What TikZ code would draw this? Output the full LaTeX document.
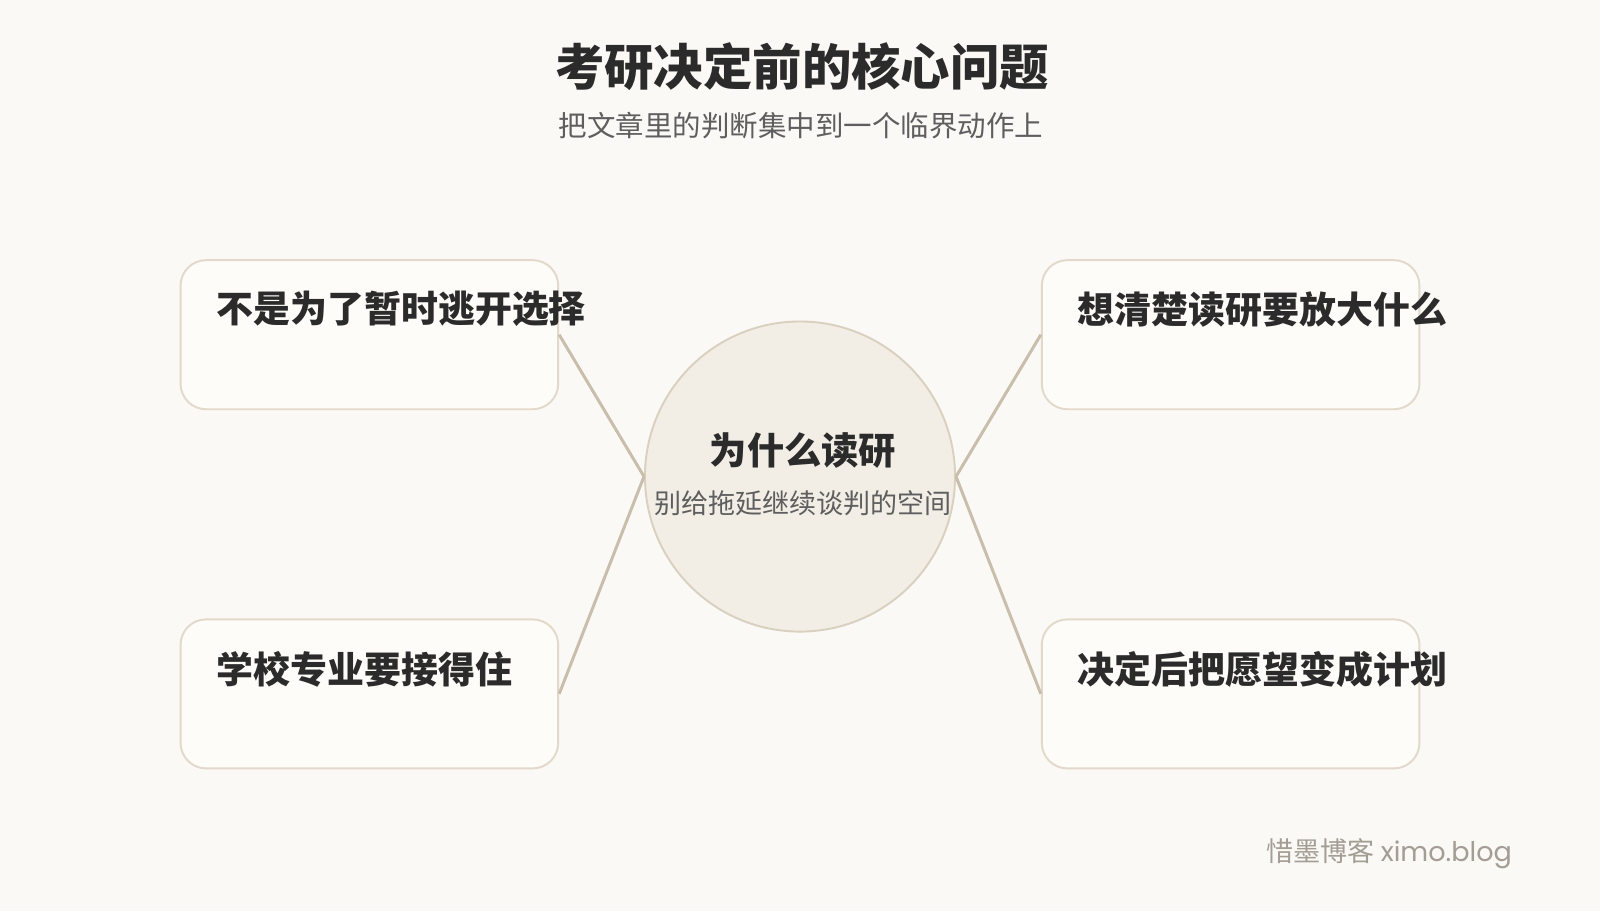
\documentclass[tikz,border=0pt]{standalone}
\usepackage{fontspec}
\setmainfont{Noto Sans CJK SC}
\newfontfamily\latinfont{Poppins}
\usepackage{tikz}

\definecolor{bgcol}{HTML}{FAF9F6}
\definecolor{boxfill}{HTML}{FDFCF9}
\definecolor{boxline}{HTML}{E2D9CA}
\definecolor{hubfill}{HTML}{F2EEE6}
\definecolor{hubline}{HTML}{DAD0BF}
\definecolor{linkcol}{HTML}{C9BEAB}
\definecolor{inkcol}{HTML}{2B2B2B}
\definecolor{subcol}{HTML}{5E5E5E}
\definecolor{footcol}{HTML}{A39D93}

\begin{document}
\begin{tikzpicture}[x=0.020408cm, y=-0.020408cm,
	leaf/.style={draw=boxline, fill=boxfill, line width=1.1pt, rounded corners=0.51cm, minimum width=7.55cm, minimum height=2.98cm, inner sep=0},
	hub/.style={circle, draw=hubline, fill=hubfill, line width=1.1pt, minimum size=6.2cm, inner sep=0},
	link/.style={draw=linkcol, line width=1.7pt},
	leaftext/.style={anchor=west, text=inkcol, font=\fontsize{21}{25}\selectfont\bfseries, inner sep=0}]
	\useasboundingbox (0,0) rectangle (1568,892.8);
	\path[fill=bgcol] (0,0) rectangle (1568,892.8);

	\node[text=inkcol, font=\fontsize{28.1}{33}\selectfont\bfseries] (title) at (786,65) {考研决定前的核心问题};
	\node[text=subcol, font=\fontsize{16.2}{19}\selectfont] (subtitle) at (785,123) {把文章里的判断集中到一个临界动作上};

	\node[leaf] (tl) at (362,328) {};
	\node[leaf] (bl) at (362,680) {};
	\node[leaf] (tr) at (1206,328) {};
	\node[leaf] (br) at (1206,680) {};
	\node[hub] (why) at (784,467) {};

	\draw[link] (tl.east) -- (why.west);
	\draw[link] (bl.east) -- (why.west);
	\draw[link] (why.east) -- (tr.west);
	\draw[link] (why.east) -- (br.west);

	\node[leaftext] (tltext) at (212,303) {不是为了暂时逃开选择};
	\node[leaftext] (bltext) at (212,656) {学校专业要接得住};
	\node[leaftext] (trtext) at (1056,303) {想清楚读研要放大什么};
	\node[leaftext] (brtext) at (1056,656) {决定后把愿望变成计划};

	\node[text=inkcol, font=\fontsize{21.2}{25}\selectfont\bfseries] (whytext) at (787,441) {为什么读研};
	\node[text=subcol, font=\fontsize{15.4}{18}\selectfont] (whysub) at (787,493) {别给拖延继续谈判的空间};

	\node[anchor=east, text=footcol, font=\fontsize{15.4}{18}\selectfont, inner sep=0] (foot) at (1482,837) {惜墨博客 {\latinfont ximo.blog}};
\end{tikzpicture}
\end{document}
